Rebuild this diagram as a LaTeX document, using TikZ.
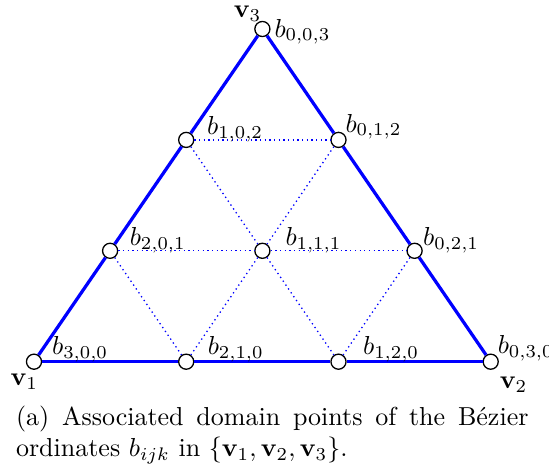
\documentclass[tikz,border=0pt]{standalone}
\usepackage{amsmath}
\begin{document}
\begin{tikzpicture}[x=0.3846pt,y=-0.3846pt,
  pt/.style={circle,draw=black,fill=white,line width=0.5pt,minimum size=5.8pt,inner sep=0pt},
  lbl/.style={anchor=base west,inner sep=0pt,font=\fontsize{10}{12}\selectfont},
  edge/.style={blue,line width=1.25pt},
  grid/.style={blue,line width=0.5pt,dash pattern=on 0.5pt off 1.3pt}]
\useasboundingbox (0,0) rectangle (549,471);
% domain points
\node[pt] (b300) at (34,361.7) {};
\node[pt] (b210) at (186.2,361.7) {};
\node[pt] (b120) at (338.5,361.7) {};
\node[pt] (b030) at (490.7,361.7) {};
\node[pt] (b201) at (110.1,250.8) {};
\node[pt] (b111) at (262.4,250.8) {};
\node[pt] (b021) at (414.6,250.8) {};
\node[pt] (b102) at (186.2,139.9) {};
\node[pt] (b012) at (338.5,139.9) {};
\node[pt] (b003) at (262.4,29) {};
% edges
\draw[edge] (b300) -- (b210) -- (b120) -- (b030);
\draw[edge] (b030) -- (b021) -- (b012) -- (b003);
\draw[edge] (b003) -- (b102) -- (b201) -- (b300);
% grid
\draw[grid] (b102) -- (b012);
\draw[grid] (b201) -- (b111) -- (b021);
\draw[grid] (b102) -- (b111) -- (b120);
\draw[grid] (b201) -- (b210);
\draw[grid] (b012) -- (b111) -- (b210);
\draw[grid] (b021) -- (b120);
% labels
\node[lbl] (l003) at (274,37) {$b_{0,0,3}$};
\node[lbl] (l102) at (206.7,134.3) {$b_{1,0,2}$};
\node[lbl] (l012) at (345,132) {$b_{0,1,2}$};
\node[lbl] (l201) at (129.3,245.7) {$b_{2,0,1}$};
\node[lbl] (l111) at (285,245.7) {$b_{1,1,1}$};
\node[lbl] (l021) at (422.7,245.7) {$b_{0,2,1}$};
\node[lbl] (l300) at (51.7,354.3) {$b_{3,0,0}$};
\node[lbl] (l210) at (207.3,354.3) {$b_{2,1,0}$};
\node[lbl] (l120) at (362.7,354.3) {$b_{1,2,0}$};
\node[lbl] (l030) at (497.3,353.3) {$b_{0,3,0}$};
\node[lbl] (v1) at (10,386) {$\mathbf{v}_1$};
\node[lbl] (v2) at (499.3,388.3) {$\mathbf{v}_2$};
\node[lbl] (v3) at (233.3,17.5) {$\mathbf{v}_3$};
% caption
\node[lbl] (cap1) at (15.5,425.5) {\makebox[197.1pt][s]{(a) Associated domain points of the B\'ezier}};
\node[lbl] (cap2) at (15.5,457) {ordinates $b_{ijk}$ in $\{\mathbf{v}_1,\mathbf{v}_2,\mathbf{v}_3\}$.};
\end{tikzpicture}
\end{document}
